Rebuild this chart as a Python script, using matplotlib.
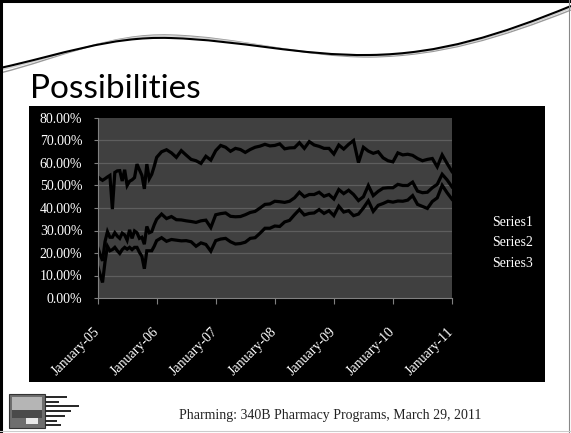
import numpy as np
import matplotlib.pyplot as plt
from matplotlib.patches import Rectangle, PathPatch
from matplotlib.path import Path
from matplotlib.lines import Line2D

W, H = 571, 433

# months after January 2005: half-month steps until Jan-06, monthly after that
months = [i * 0.5 for i in range(25)] + list(range(13, 73))

series1 = [54.0, 53.0, 52.3, 53.0, 53.8, 54.5, 39.5, 55.8, 56.5, 56.6, 52.0, 57.0, 50.0,
           51.9, 52.5, 53.5, 59.5, 57.0, 54.5, 48.5, 59.5, 53.0, 55.0, 58.5, 62.5,
           65.0, 65.9, 64.5, 62.5, 65.5, 63.5, 61.6, 61.0, 59.8, 63.0, 61.3, 65.5,
           67.8, 67.0, 65.2, 66.5, 66.0, 64.7, 66.0, 67.0, 67.5, 68.3, 67.6, 67.8,
           68.5, 66.3, 66.7, 66.8, 69.0, 66.5, 69.5, 68.0, 67.4, 66.5, 66.5, 64.0,
           68.0, 66.2, 68.3, 70.0, 60.2, 67.0, 65.3, 64.3, 65.0, 62.3, 61.0, 60.5,
           64.5, 63.6, 63.9, 63.4, 62.0, 61.0, 61.6, 62.0, 58.3, 63.6, 59.8, 56.2]
series2 = [22.7, 19.5, 16.5, 25.0, 29.5, 27.0, 27.0, 29.0, 27.5, 26.5, 28.8, 28.0, 25.7,
           30.3, 26.5, 29.8, 29.0, 26.5, 27.0, 23.9, 31.8, 29.0, 29.5, 32.5, 35.0,
           37.3, 35.3, 36.2, 34.8, 34.7, 34.3, 34.0, 33.6, 34.3, 34.6, 31.3, 37.0,
           37.5, 37.8, 36.3, 36.1, 36.2, 37.0, 38.0, 38.5, 40.0, 41.6, 41.8, 43.0,
           42.8, 42.5, 43.0, 44.5, 47.0, 45.0, 46.0, 46.0, 47.0, 45.2, 46.0, 44.0,
           48.2, 46.4, 47.9, 46.0, 43.3, 45.0, 50.0, 45.5, 47.4, 48.8, 49.0, 49.0,
           50.5, 50.0, 50.0, 51.5, 47.5, 46.8, 47.0, 49.0, 50.5, 55.0, 52.5, 49.4]
series3 = [14.3, 10.5, 6.9, 16.0, 23.0, 21.0, 21.5, 22.5, 21.0, 19.8, 21.5, 22.5, 21.7,
           22.5, 21.5, 22.5, 22.5, 20.3, 18.5, 13.0, 21.0, 21.0, 21.0, 23.0, 25.5,
           26.8, 25.2, 26.0, 25.7, 25.4, 25.5, 25.0, 23.0, 24.5, 23.8, 20.8, 25.5,
           26.2, 26.5, 25.0, 24.0, 24.2, 24.8, 26.5, 26.8, 28.8, 31.0, 31.0, 32.0,
           31.8, 33.8, 34.5, 37.0, 39.3, 36.9, 37.6, 37.8, 39.3, 37.6, 38.8, 36.6,
           40.8, 38.2, 38.8, 36.6, 37.3, 40.0, 43.2, 38.5, 41.2, 42.0, 43.0, 42.6,
           43.1, 43.0, 43.5, 45.5, 41.6, 40.7, 39.8, 42.9, 44.5, 50.1, 46.8, 43.9]
series_names = ['Series1', 'Series2', 'Series3']

year_ticks = [0, 12, 24, 36, 48, 60, 72]
year_labels = ['January-05', 'January-06', 'January-07', 'January-08',
               'January-09', 'January-10', 'January-11']
pct_ticks = [0, 10, 20, 30, 40, 50, 60, 70, 80]
pct_labels = ['%.2f%%' % p for p in pct_ticks]

serif = ['Liberation Serif', 'DejaVu Serif']

fig = plt.figure(figsize=(W / 100, H / 100), dpi=100)
fig.patch.set_facecolor('white')

# slide background, drawn in pixel coordinates
bg = fig.add_axes([0, 0, 1, 1])
bg.set_xlim(0, W)
bg.set_ylim(H, 0)
bg.axis('off')

# slide frame
bg.plot([1, 1], [0, H], color='black', lw=2.2)
bg.plot([0, W], [1, 1], color='black', lw=2.2)
bg.plot([W - 2, W - 2], [0, H], color='#888888', lw=0.8)
bg.plot([0, W], [H - 2, H - 2], color='#cccccc', lw=0.8)

# decorative waves at the top
def wave(pts, color, lw):
    codes = [Path.MOVETO] + [Path.CURVE4] * (len(pts) - 1)
    bg.add_patch(PathPatch(Path(pts, codes), fill=False, edgecolor=color, lw=lw))

wave([(0, 73), (60, 58), (110, 33), (170, 35), (240, 37), (300, 57), (370, 57),
      (440, 56), (500, 38), (571, 10)], '#9a9a9a', 1.0)
wave([(0, 70), (60, 57), (110, 34), (170, 36), (240, 38), (300, 56), (370, 56),
      (440, 55), (500, 37), (571, 8)], '#d0d0d0', 1.0)
wave([(0, 68), (60, 55), (110, 36), (170, 38), (240, 40), (300, 56), (370, 55),
      (440, 54), (500, 35), (571, 6)], 'black', 1.5)

bg.text(30, 98, 'Possibilities', fontsize=24, family=['Lato', 'DejaVu Sans'],
        color='black', va='baseline', ha='left')

# black chart area
bg.add_patch(Rectangle((29, 106), 516, 276, facecolor='black', edgecolor='none'))

# footer
bg.text(330, 416, 'Pharming: 340B Pharmacy Programs, March 29, 2011', fontsize=10,
        family=serif, color='#222222', ha='center', va='center')

# small logo
bg.add_patch(Rectangle((9, 394), 36, 34, facecolor='#6e6e6e', edgecolor='#333333', lw=0.8))
bg.add_patch(Rectangle((12, 397), 30, 13, facecolor='#b5b5b5', edgecolor='none'))
bg.add_patch(Rectangle((12, 410), 30, 8, facecolor='#4a4a4a', edgecolor='none'))
bg.add_patch(Rectangle((26, 418), 12, 6, facecolor='#e8e8e8', edgecolor='none'))
for yy, ww in [(396, 22), (401, 14), (405, 34), (410, 26), (415, 20), (420, 12), (424, 16)]:
    bg.add_patch(Rectangle((45, yy), ww, 2.2, facecolor='#2a2a2a', edgecolor='none'))

# plot area
ax = fig.add_axes([97.6 / W, 1 - 298 / H, (452 - 97.6) / W, (298 - 118) / H])
ax.set_facecolor('#404040')
for vals, name in zip([series1, series2, series3], series_names):
    ax.plot(months, vals, color='black', lw=2.3, label=name, solid_joinstyle='miter')

ax.set_xlim(0, 72)
ax.set_ylim(0, 80)
ax.set_yticks(pct_ticks)
ax.set_yticklabels(pct_labels)
ax.set_xticks(year_ticks)
ax.set_xticklabels(year_labels, rotation=45, ha='right', va='center',
                   rotation_mode='anchor')
for g in pct_ticks[1:-1]:
    ax.axhline(g, color='#5e5e5e', lw=0.9, zorder=0.5)
for s in ['top', 'right']:
    ax.spines[s].set_visible(False)
for s in ['left', 'bottom']:
    ax.spines[s].set_color('#808080')
ax.tick_params(axis='y', colors='#808080', labelcolor='white', length=3, pad=8,
               labelsize=10)
ax.tick_params(axis='x', colors='#808080', labelcolor='white', length=4, pad=19,
               labelsize=10)
for lab in ax.get_xticklabels() + ax.get_yticklabels():
    lab.set_family(serif)

handles = [Line2D([], [], color='black', lw=2.3) for _ in series_names]
leg = ax.legend(handles, series_names, loc='center left',
                bbox_to_anchor=(441 / W, 1 - 243 / H), bbox_transform=fig.transFigure,
                frameon=False, labelcolor='white', handlelength=2,
                labelspacing=0.55, prop={'family': serif, 'size': 10})

fig.savefig('out.png', dpi=100)
